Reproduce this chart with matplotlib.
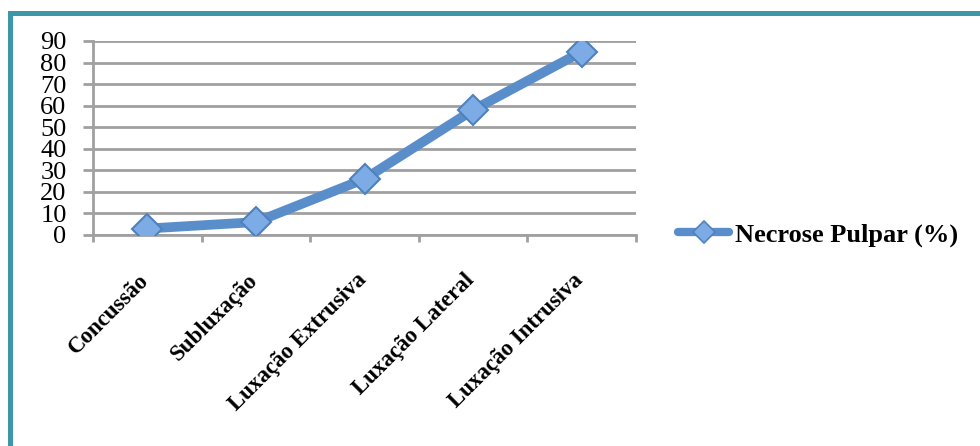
import matplotlib
matplotlib.use("Agg")
import matplotlib.pyplot as plt
import matplotlib.transforms as mtransforms
from matplotlib.lines import Line2D

categories = ["Concussão", "Subluxação", "Luxação Extrusiva", "Luxação Lateral", "Luxação Intrusiva"]
values = [3, 6, 26, 58, 85]
yticks = [0, 10, 20, 30, 40, 50, 60, 70, 80, 90]
series_name = "Necrose Pulpar (%)"

W, H = 980, 446
fig = plt.figure(figsize=(W / 100, H / 100), dpi=100)
serif = ["Liberation Serif", "DejaVu Serif"]

ax = fig.add_axes([93 / W, 1 - 235 / H, (636 - 93) / W, (235 - 41) / H])
x = list(range(len(categories)))
ax.plot(x, values, color="#5A8ECB", lw=7, solid_capstyle="round", zorder=3,
        marker="D", markersize=15, markerfacecolor="#7DABE6",
        markeredgecolor="#4F81BD", markeredgewidth=1.5)

ax.set_xlim(-0.5, len(categories) - 0.5)
ax.set_ylim(0, 90)
ax.set_yticks(yticks)
ax.set_yticklabels([str(v) for v in yticks], fontfamily=serif, fontsize=19)
ax.yaxis.grid(True, color="#A0A0A0", lw=2)
ax.set_axisbelow(True)

ax.set_xticks([i - 0.5 for i in range(len(categories) + 1)], minor=False)
ax.set_xticklabels([])
ax.set_xticks(x, minor=True)
labels = ax.set_xticklabels(categories, minor=True, rotation=45, ha="right", va="top",
                            fontfamily=serif, fontsize=16.5, fontweight="bold")
ax.tick_params(axis="x", which="minor", length=0, pad=25)
ax.tick_params(axis="x", which="major", length=5, width=2, color="#A0A0A0", direction="out")
ax.tick_params(axis="y", length=7, width=2, color="#A0A0A0", pad=12)

shift = mtransforms.ScaledTranslation(6 / 100, 0, fig.dpi_scale_trans)
for lab in labels:
    lab.set_transform(lab.get_transform() + shift)

for s in ["top", "right"]:
    ax.spines[s].set_visible(False)
for s in ["left", "bottom"]:
    ax.spines[s].set_color("#A0A0A0")
    ax.spines[s].set_linewidth(2)

handle = Line2D([], [], color="#5A8ECB", lw=6, marker="D", markersize=11,
                markerfacecolor="#7DABE6", markeredgecolor="#4F81BD", markeredgewidth=1.2,
                solid_capstyle="round")
fig.legend([handle], [series_name], loc="center left",
           bbox_to_anchor=(678 / W, 1 - 235 / H), frameon=False,
           borderpad=0, borderaxespad=0,
           handlelength=1.95, handletextpad=0.2,
           prop={"family": serif, "size": 19, "weight": "bold"})

# Frame (teal border on top and left)
teal = "#3C98A8"
fig.add_artist(Line2D([10 / W, 1.0], [1 - 12.5 / H, 1 - 12.5 / H], color=teal, lw=3.6,
                      transform=fig.transFigure))
fig.add_artist(Line2D([10 / W, 10 / W], [0, 1 - 12.5 / H], color=teal, lw=3.6,
                      solid_capstyle="projecting", transform=fig.transFigure))

fig.savefig("out.png", dpi=100)
